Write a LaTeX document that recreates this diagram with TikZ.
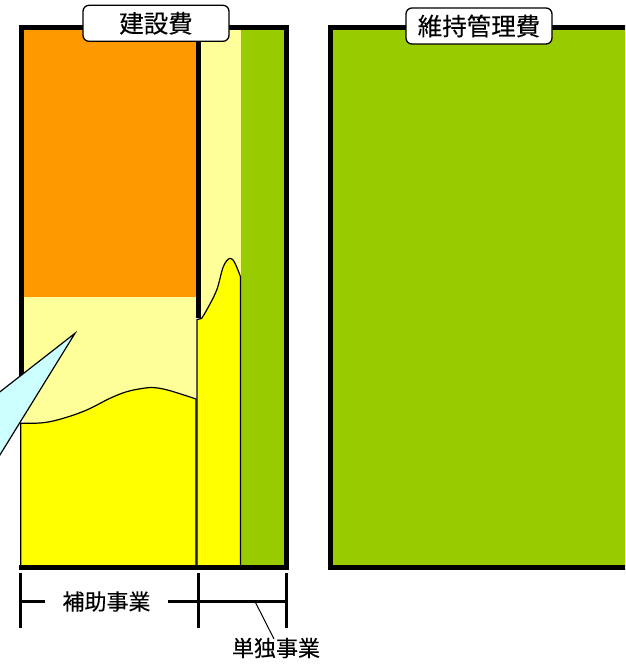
\documentclass[tikz,border=0pt]{standalone}
\usepackage{fontspec}
\setmainfont{Noto Sans CJK JP}[FakeBold=0.25]
\definecolor{corange}{HTML}{FF9900}
\definecolor{cpale}{HTML}{FFFF99}
\definecolor{cyellow}{HTML}{FFFF00}
\definecolor{cgreen}{HTML}{99CC00}
\definecolor{ccyan}{HTML}{CCFFFF}
\tikzset{
  frameline/.style={line width=5pt},
  thinline/.style={line width=1.2pt, line join=round},
  bracketline/.style={line width=3pt},
  titlebox/.style={draw, fill=white, line width=1.3pt, rounded corners=6pt,
    minimum width=146pt, minimum height=36pt, inner sep=0pt,
    font=\fontsize{24.5}{26}\selectfont},
  lowlabel/.style={inner sep=0pt, font=\fontsize{22}{24}\selectfont}
}
\begin{document}
\begin{tikzpicture}[x=1pt,y=-1pt]
\useasboundingbox (0,0) rectangle (625,668);
\clip (0,0) rectangle (625,668);
% ---- left box fills
\fill[corange] (24,30) rectangle (196,297);
\fill[cpale] (24,297) rectangle (196,566);
\fill[cpale] (200,30) rectangle (241,566);
\fill[cgreen] (241,30) rectangle (284,566);
% yellow area under the wavy line
\filldraw[fill=cyellow, thinline] (20.7,566)
  -- plot[smooth, tension=0.6] coordinates {(20.7,423.3) (43.3,422.7) (63.3,418.3) (86.7,410) (110,398.3) (126.7,391.7) (143.3,388.3) (155,387.7) (170,390.7) (196,399)}
  -- (196,566) -- cycle;
% yellow column with bump
\filldraw[fill=cyellow, thinline] (197,566) -- (197,319.5)
  -- plot[smooth, tension=0.6] coordinates {(201.5,318.5) (206.7,310) (216.7,290) (223.3,266.7) (230,258.3) (235,263.3) (240.5,276.7)}
  -- (240.5,566) -- cycle;
% divider
\draw[frameline] (198.5,27.5) -- (198.5,318);
% frame of left box
\draw[frameline] (21.5,400) -- (21.5,27.5) -- (286.5,27.5) -- (286.5,567.5) -- (19,567.5);
% ---- right box
\fill[cgreen] (333,30) rectangle (640,566);
\draw[frameline] (640,27.5) -- (330.5,27.5) -- (330.5,567.5) -- (640,567.5);
% ---- callout triangle
\filldraw[fill=ccyan, thinline, line join=miter] (75,333.3) -- (-40,423) -- (-10,471) -- cycle;
% ---- titles
\node[titlebox] (kensetsu) at (156,23.3) {建設費};
\node[titlebox] (iji) at (479,26) {維持管理費};
% ---- brackets
\coordinate (t1a) at (20.7,573); \coordinate (t1b) at (20.7,628);
\coordinate (t2a) at (198,573); \coordinate (t2b) at (198,628);
\coordinate (t3a) at (286,573); \coordinate (t3b) at (286,628);
\draw[bracketline] (t1a) -- (t1b);
\draw[bracketline] (t2a) -- (t2b);
\draw[bracketline] (t3a) -- (t3b);
\node[lowlabel] (hojo) at (106.5,601.5) {補助事業};
\draw[bracketline] (20.7,601.5) -- (45,601.5);
\draw[bracketline] (168,601.5) -- (286,601.5);
\node[lowlabel] (tandoku) at (276,648) {単独事業};
\coordinate (lead) at (255,601.5);
\coordinate (leadend) at (274,639);
\draw[line width=1pt] (lead) -- (leadend);
\end{tikzpicture}
\end{document}
